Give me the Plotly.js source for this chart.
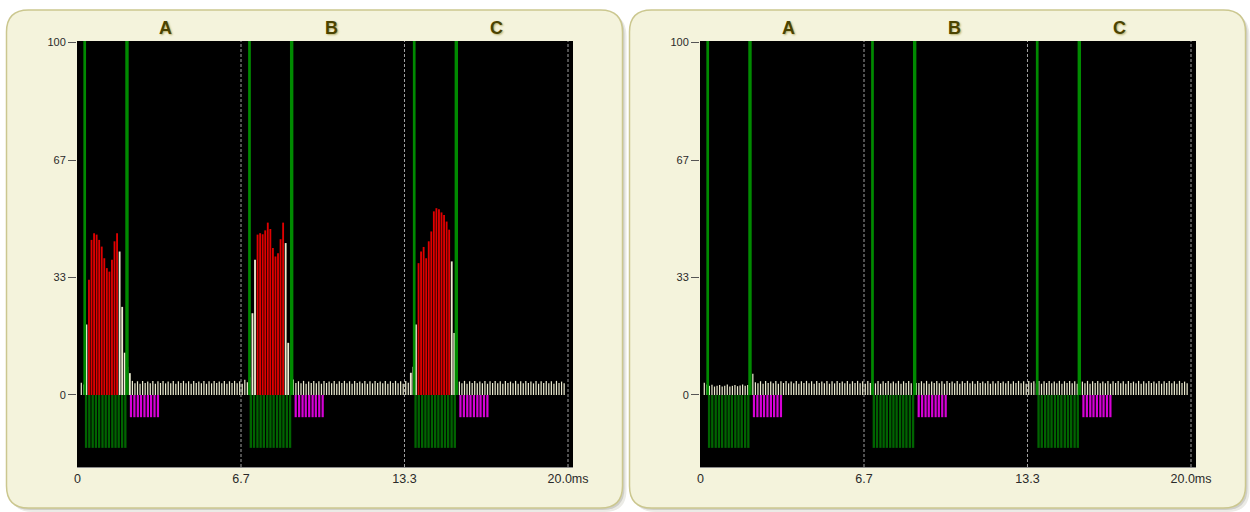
<!DOCTYPE html>
<html><head><meta charset="utf-8">
<script src="https://cdn.plot.ly/plotly-3.0.1.min.js"></script>
<style>html,body{margin:0;padding:0;background:#fff;}#chart{width:1250px;height:512px;}</style>
</head><body><div id="chart"></div>
<script>
// ---- data ----
const sampleStart = 0.155;          // ms, time of first sample
const sampleStep = 20 / 192;        // ms between samples
const leftWave = [
  3.5,3.0,20,32.7,44,45.9,45.5,44,42.1,38.8,
  36,35,38.4,43.6,45.9,40.7,25,12,8,6.2,
  4.0,3.3,3.9,3.2,4.0,3.4,3.8,3.3,4.0,3.2,
  3.9,3.4,4.0,3.3,3.8,3.3,4.0,3.2,3.9,3.4,
  4.0,3.3,3.9,3.2,4.0,3.4,3.8,3.3,4.0,3.2,
  3.9,3.3,4.0,3.4,3.8,3.3,4.0,3.2,3.9,3.4,
  4.0,3.3,3.9,3.2,4.3,3.6,5.0,23.2,38.4,45.5,
  45.9,45.6,46.7,48.9,47.1,41.7,39.3,40.2,44.2,48.9,
  43.1,14.8,6.0,4.4,3.4,3.9,3.3,4.0,3.2,3.8,
  3.4,4.0,3.3,3.9,3.2,4.0,3.4,3.8,3.3,4.0,
  3.2,3.9,3.4,4.0,3.3,3.9,3.2,4.0,3.4,3.8,
  3.3,4.0,3.2,3.9,3.3,4.0,3.4,3.8,3.3,4.0,
  3.2,3.9,3.4,4.0,3.3,3.9,3.2,4.0,3.5,6.3,
  8.0,20,37.4,40.7,42,38.8,43.6,46.4,52.1,53,
  52.7,51.8,51.1,49.2,46.9,37.9,17.6,6.0,3.8,3.3,
  4.0,3.2,3.9,3.4,4.0,3.3,3.8,3.3,4.0,3.2,
  3.9,3.4,4.0,3.3,3.9,3.2,4.0,3.4,3.8,3.3,
  4.0,3.2,3.9,3.3,4.0,3.4,3.8,3.3,4.0,3.2,
  3.9,3.4,4.0,3.3,3.9,3.2,4.0,3.4,3.8,3.3
];
const rightWave = [
  3.5,3.0,2.6,2.9,2.4,2.6,2.8,2.4,2.6,3.0,
  2.4,2.6,2.8,2.5,2.7,3.0,2.6,2.8,4.0,6.0,
  3.6,3.3,3.9,3.2,4.0,3.4,3.8,3.3,4.0,3.2,
  3.9,3.4,4.0,3.3,3.8,3.3,4.0,3.2,3.9,3.4,
  4.0,3.3,3.9,3.2,4.0,3.4,3.8,3.3,4.0,3.2,
  3.9,3.3,4.0,3.4,3.8,3.3,4.0,3.2,3.9,3.4,
  4.0,3.3,3.9,3.2,4.0,3.4,3.8,3.3,4.0,3.2,
  3.9,3.4,4.0,3.3,3.8,3.3,4.0,3.2,3.9,3.4,
  4.0,3.3,3.9,3.4,3.4,3.9,3.3,4.0,3.2,3.8,
  3.4,4.0,3.3,3.9,3.2,4.0,3.4,3.8,3.3,4.0,
  3.2,3.9,3.4,4.0,3.3,3.9,3.2,4.0,3.4,3.8,
  3.3,4.0,3.2,3.9,3.3,4.0,3.4,3.8,3.3,4.0,
  3.2,3.9,3.4,4.0,3.3,3.9,3.2,4.0,3.5,3.9,
  3.3,4.0,3.2,3.9,3.4,4.0,3.3,3.8,3.3,4.0,
  3.2,3.9,3.4,4.0,3.3,3.9,3.2,4.0,3.8,3.3,
  4.0,3.2,3.9,3.4,4.0,3.3,3.8,3.3,4.0,3.2,
  3.9,3.4,4.0,3.3,3.9,3.2,4.0,3.4,3.8,3.3,
  4.0,3.2,3.9,3.3,4.0,3.4,3.8,3.3,4.0,3.2,
  3.9,3.4,4.0,3.3,3.9,3.2,4.0,3.4,3.8,3.3
];
const redRanges = [[3,14],[69,79],[132,144]];   // sample index ranges drawn red (left panel)
const gateOnLines = [0.294, 7.013, 13.73];       // ms
const gateOffLines = [2.018, 8.733, 15.446];     // ms
const windowOffsets = [0, 6.717, 13.434];        // ms
const gateBarTimes = [0.35,0.48,0.62,0.75,0.88,1.02,1.15,1.28,1.42,1.55,1.68,1.82,1.95];
const gateBarDepth = [-15,-15,-15,-15,-15,-15,-15,-15,-15,-15,-15,-15,-15];
const pulseBarTimes = [2.18,2.32,2.46,2.59,2.73,2.87,3.00,3.14,3.28];
const pulseBarDepth = [-6.3,-6.3,-6.3,-6.3,-6.3,-6.3,-6.3,-6.3,-6.3];
const phaseLabels = ['A','B','C'];
const phaseLabelTimes = [3.6, 10.35, 17.1];
const dividerTimes = [6.667, 13.333, 20];
const xTickVals = [0, 6.667, 13.333, 20];
const xTickText = ['0','6.7','13.3','20.0ms'];
const yTickVals = [0, 33.33, 66.67, 100];
const yTickText = ['0','33','67','100'];

// ---- drawing ----
const W = 1250, H = 512;
const px = x => x / W, py = y => 1 - y / H;
function roundRect(x0,y0,x1,y1,r){
  return `M${px(x0+r)},${py(y0)} H${px(x1-r)} Q${px(x1)},${py(y0)} ${px(x1)},${py(y0+r)} V${py(y1-r)} Q${px(x1)},${py(y1)} ${px(x1-r)},${py(y1)} H${px(x0+r)} Q${px(x0)},${py(y1)} ${px(x0)},${py(y1-r)} V${py(y0+r)} Q${px(x0)},${py(y0)} ${px(x0+r)},${py(y0)} Z`;
}
const YTOP = 100.43, YBOT = -20.43;

function panelTraces(wave, withRed, xa, ya){
  const t = wave.map((_, i) => sampleStart + i * sampleStep);
  const isRed = i => withRed && redRanges.some(([a,b]) => i >= a && i <= b);
  const cx=[], cy=[], cw=[], rx=[], ry=[];
  wave.forEach((v,i) => {
    if (isRed(i)) { rx.push(t[i]); ry.push(v); }
    else { cx.push(t[i]); cy.push(v); cw.push(v > 6 ? 0.075 : 0.05); }
  });
  const gx=[], gy=[], mx=[], my=[];
  windowOffsets.forEach(o => {
    gateBarTimes.forEach((g,k) => { gx.push(g + o); gy.push(gateBarDepth[k]); });
    pulseBarTimes.forEach((p,k) => { mx.push(p + o); my.push(pulseBarDepth[k]); });
  });
  const lineXY = arr => ({x: arr.flatMap(v => [v, v, null]), y: arr.flatMap(() => [0, YTOP, null])});
  const on = lineXY(gateOnLines), off = lineXY(gateOffLines);
  const common = {xaxis: xa, yaxis: ya, hoverinfo: 'skip', showlegend: false};
  const tr = [
    Object.assign({type:'bar', x: cx, y: cy, width: cw, marker:{color:'#ecebd0', line:{width:0}}}, common),
    Object.assign({type:'bar', x: gx, y: gy, width: 0.095, marker:{color:'#006400', line:{width:0}}}, common),
    Object.assign({type:'bar', x: mx, y: my, width: 0.09, marker:{color:'#d600d6', line:{width:0}}}, common)
  ];
  if (withRed) tr.push(Object.assign({type:'bar', x: rx, y: ry, width: 0.075, marker:{color:'#e00000', line:{width:0}}}, common));
  tr.push(Object.assign({type:'scatter', mode:'lines', x: on.x, y: on.y, line:{color:'#008a00', width:2.7}}, common));
  tr.push(Object.assign({type:'scatter', mode:'lines', x: off.x, y: off.y, line:{color:'#008a00', width:3.4}}, common));
  return tr;
}

const data = [].concat(panelTraces(leftWave, true, 'x', 'y'), panelTraces(rightWave, false, 'x2', 'y2'));

const xaxisBase = {
  range: [-0.0204, 20.204], showgrid:false, zeroline:false, tickvals: xTickVals, ticktext: xTickText,
  ticks:'', tickfont:{size:12.5, color:'#2a2a2a'}, showline:true, linecolor:'#8c8c8c', linewidth:1, fixedrange:true
};
const yaxisBase = {
  range: [YBOT, YTOP], showgrid:false, zeroline:false, tickvals: yTickVals, ticktext: yTickText,
  ticks:'outside', ticklen:8, tickwidth:1, tickcolor:'#555', tickfont:{size:11, color:'#2a2a2a'}, showline:false, fixedrange:true
};
const panels = [[6.5,10,622.5,508],[629.5,10,1245.5,508]];
const shapes = [];
panels.forEach(p => {
  shapes.push({type:'path', xref:'paper', yref:'paper', layer:'below', path: roundRect(p[0]+4,p[1]+4,p[2]+4,p[3]+4,22), fillcolor:'#ebebe6', line:{width:0}});
  shapes.push({type:'path', xref:'paper', yref:'paper', layer:'below', path: roundRect(p[0]+2,p[1]+2,p[2]+2,p[3]+2,22), fillcolor:'#cfcfc8', line:{width:0}});
  shapes.push({type:'path', xref:'paper', yref:'paper', layer:'below', path: roundRect(p[0],p[1],p[2],p[3],22), fillcolor:'#f4f3dc', line:{color:'#cbc78f', width:1.5}});
});
[['x','y'],['x2','y2']].forEach(([xa,ya]) => {
  shapes.push({type:'rect', xref: xa+' domain', yref: ya+' domain', x0:0, x1:1, y0:0, y1:1, layer:'below', fillcolor:'#000', line:{width:0}});
  dividerTimes.forEach(d => shapes.push({type:'line', xref: xa, yref: ya+' domain', x0:d, x1:d, y0:0, y1:1, layer:'below', line:{color:'#a0a0a0', width:1, dash:'3px,2px'}}));
});
const annotations = [];
[['x', 0], ['x2', 1]].forEach(([xa]) => {
  phaseLabels.forEach((lab, k) => annotations.push({
    xref: xa, yref:'paper', x: phaseLabelTimes[k], y: py(28), text: lab, showarrow:false,
    xanchor:'center', yanchor:'middle',
    font:{family:'Liberation Sans, Arial, sans-serif', size:18, color:'#4b4300', weight:'bold', shadow:'1px 1px 2px #b8b070'}
  }));
});

const layout = {
  width: W, height: H, margin:{l:0,r:0,t:0,b:0,pad:0},
  paper_bgcolor:'#ffffff', plot_bgcolor:'rgba(0,0,0,0)',
  font:{family:'Liberation Sans, Arial, sans-serif'},
  barmode:'overlay', showlegend:false, hovermode:false,
  xaxis: Object.assign({domain:[px(77), px(573)], anchor:'y'}, xaxisBase),
  yaxis: Object.assign({domain:[py(467), py(41)], anchor:'x'}, yaxisBase),
  xaxis2: Object.assign({domain:[px(700), px(1196)], anchor:'y2'}, xaxisBase),
  yaxis2: Object.assign({domain:[py(467), py(41)], anchor:'x2'}, yaxisBase),
  shapes, annotations
};
Plotly.newPlot('chart', data, layout, {staticPlot:true, displayModeBar:false});
</script></body></html>
